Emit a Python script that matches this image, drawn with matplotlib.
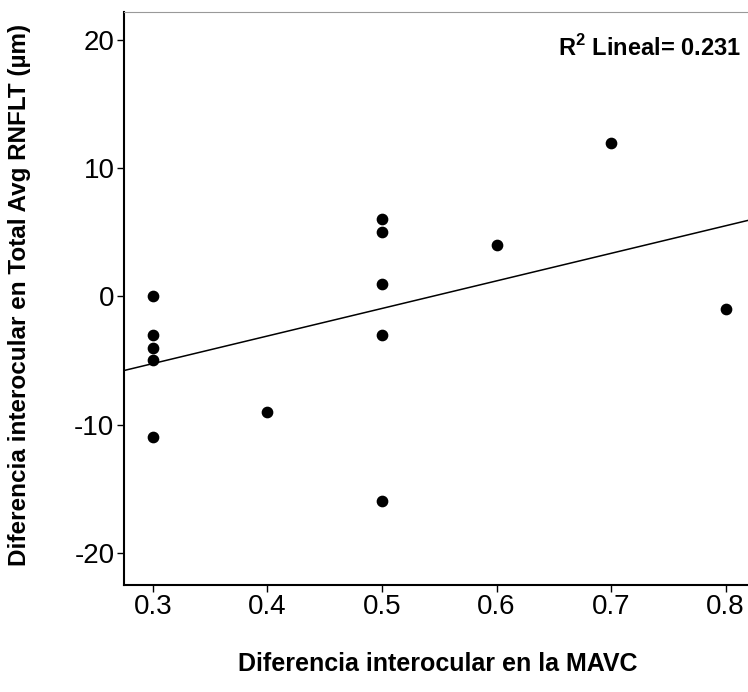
import numpy as np
import matplotlib.pyplot as plt

plt.rcParams['font.family'] = ['Liberation Sans', 'DejaVu Sans']
plt.rcParams['axes.unicode_minus'] = False
plt.rcParams['mathtext.fontset'] = 'custom'
plt.rcParams['mathtext.rm'] = 'Liberation Sans:bold'

# interocular difference in MAVC vs difference in Total Avg RNFLT
mavc = [0.3, 0.3, 0.3, 0.3, 0.3, 0.4, 0.5, 0.5, 0.5, 0.5, 0.5, 0.6, 0.7, 0.8]
rnflt = [0, -3, -4, -5, -11, -9, 6, 5, 1, -3, -16, 4, 12, -1]
x_ticks = [0.3, 0.4, 0.5, 0.6, 0.7, 0.8]
y_ticks = [-20, -10, 0, 10, 20]

fig = plt.figure(figsize=(7.48, 6.92), dpi=100)
ax = fig.add_axes([0.166, 0.155, 0.834, 0.828])

ax.scatter(mavc, rnflt, s=55, color='black', zorder=3)

# linear fit
coef = np.polyfit(mavc, rnflt, 1)
fit = np.poly1d(coef)
xlim = (0.275, 0.8195)
xs = np.array(xlim)
ax.plot(xs, fit(xs), color='black', linewidth=1.1)

ax.set_xlim(*xlim)
ax.set_ylim(-22.5, 22.2)
ax.set_xticks(x_ticks)
ax.set_yticks(y_ticks)
ax.set_xticklabels([str(v) for v in x_ticks])
ax.tick_params(labelsize=20, length=5, width=1, pad=2)

for s in ['left', 'bottom']:
    ax.spines[s].set_linewidth(1.5)
ax.spines['top'].set_color('#999999')
ax.spines['right'].set_visible(False)

ax.text(0.988, 0.936, r'R$^{\mathrm{2}}$ Lineal= 0.231', transform=ax.transAxes,
        ha='right', va='center', fontsize=17, fontweight='bold')

fig.text(0.585, 0.04, 'Diferencia interocular en la MAVC', ha='center',
         va='center', fontsize=18, fontweight='bold')
fig.text(0.026, 0.574, 'Diferencia interocular en Total Avg RNFLT (µm)',
         ha='center', va='center', rotation=90, fontsize=17.5, fontweight='bold')

fig.savefig('out.png', dpi=100)
